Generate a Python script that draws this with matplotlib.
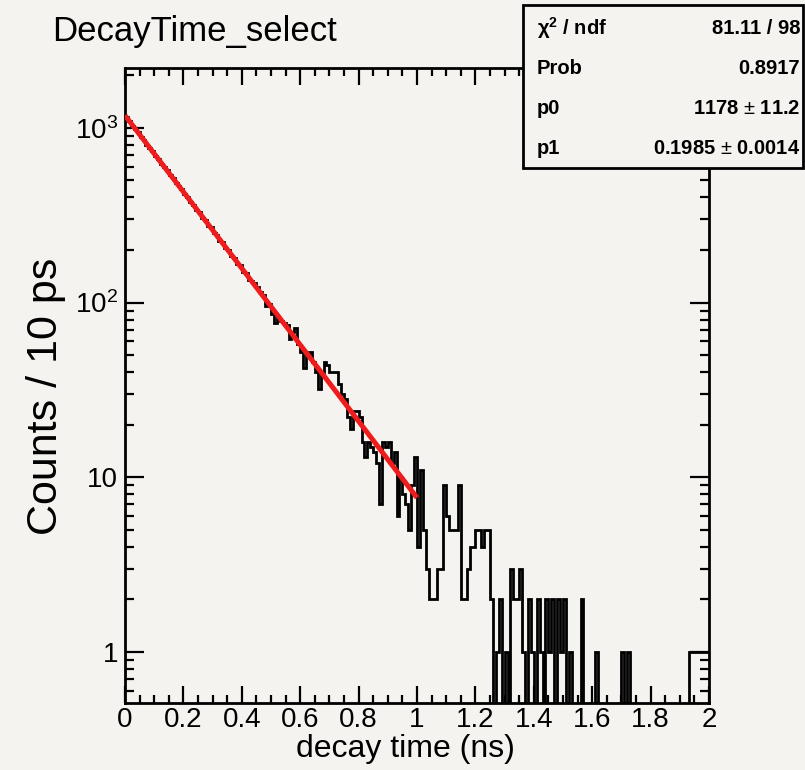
import numpy as np
import matplotlib
matplotlib.use("Agg")
import matplotlib.pyplot as plt
from matplotlib.patches import Rectangle
from matplotlib.ticker import FixedLocator, FixedFormatter, MultipleLocator, LogLocator, NullFormatter

# ---------------- data ----------------
bin_width = 0.01  # ns (10 ps)
x_min, x_max = 0.0, 2.0
counts = [
    1150, 1090, 1030, 990, 945, 885, 855, 800, 770, 735,
    690, 665, 620, 600, 572, 535, 518, 485, 462, 445,
    418, 402, 376, 364, 340, 330, 306, 298, 276, 270,
    250, 244, 226, 221, 204, 200, 184, 181, 166, 163,
    150, 148, 134, 133, 130, 122, 115, 110, 96, 98,
    86, 76, 82, 78, 76, 74, 62, 68, 72, 58,
    52, 42, 50, 52, 46, 40, 32, 40, 46, 44,
    40, 40, 40, 34, 30, 28, 22, 19, 24, 24,
    22, 16, 13, 16, 15, 14, 12, 7, 16, 15,
    16, 12, 14, 6, 10, 8, 7, 5, 9, 13,
    4, 11, 5, 3, 2, 2, 2, 3, 3, 9,
    6, 5, 5, 5, 9, 2, 2, 3, 4, 4,
    5, 5, 4, 5, 5, 2, 0, 1, 2, 0,
    1, 0, 3, 2, 2, 3, 1, 0, 2, 1,
    0, 2, 1, 0, 2, 1, 2, 0, 2, 1,
    2, 0, 1, 0, 0, 0, 2, 0, 0, 0,
    0, 1, 0, 0, 0, 0, 0, 0, 0, 0,
    1, 0, 1, 0, 0, 0, 0, 0, 0, 0,
    0, 0, 0, 0, 0, 0, 0, 0, 0, 0,
    0, 0, 0, 1, 1, 1, 1, 1, 1, 1,
]
fit_p0 = 1178.0
fit_p1 = 0.1985
fit_range = (0.0, 1.0)

title = "DecayTime_select"
xlabel = "decay time (ns)"
ylabel = "Counts / 10 ps"
stats_rows = [("χ$^{\\mathbf{2}}$ / ndf", "81.11 / 98"),
              ("Prob", "0.8917"),
              ("p0", "1178 $\\pm$ 11.2"),
              ("p1", "0.1985 $\\pm$ 0.0014")]
xticks = [0, 0.2, 0.4, 0.6, 0.8, 1.0, 1.2, 1.4, 1.6, 1.8, 2.0]
xtick_labels = ["0", "0.2", "0.4", "0.6", "0.8", "1", "1.2", "1.4", "1.6", "1.8", "2"]
yticks = [1, 10, 100, 1000]
ytick_labels = ["1", "10", "$10^2$", "$10^3$"]

# ---------------- style ----------------
BG = "#f5f3ef"
FONT = "Liberation Sans"
plt.rcParams["font.family"] = [FONT, "DejaVu Sans"]
plt.rcParams["mathtext.fontset"] = "custom"
plt.rcParams["mathtext.rm"] = FONT
plt.rcParams["mathtext.it"] = FONT + ":italic"
plt.rcParams["mathtext.bf"] = FONT + ":bold"

W, H = 805, 770
fig = plt.figure(figsize=(W / 100, H / 100), dpi=100, facecolor=BG)
L, R, T, B = 125, 709, 68, 703
ax = fig.add_axes([L / W, 1 - B / H, (R - L) / W, (B - T) / H], facecolor=BG)

edges = np.linspace(x_min, x_max, len(counts) + 1)
vals = np.array(counts, dtype=float)
plot_vals = np.where(vals > 0, vals, 1e-3)  # empty bins drawn at the bottom (ROOT style)
ax.stairs(plot_vals, edges, baseline=None, color="black", linewidth=2.0, zorder=2)

xf = np.linspace(fit_range[0], fit_range[1], 50)
ax.plot(xf, fit_p0 * np.exp(-xf / fit_p1), color="#ee1c1c", linewidth=3.6,
        solid_capstyle="butt", zorder=3)

ax.set_yscale("log")
ax.set_xlim(x_min, x_max)
ax.set_ylim(0.511, 2200)

ax.xaxis.set_major_locator(FixedLocator(xticks))
ax.xaxis.set_major_formatter(FixedFormatter(xtick_labels))
ax.xaxis.set_minor_locator(MultipleLocator(0.05))
ax.yaxis.set_major_locator(FixedLocator(yticks))
ax.yaxis.set_major_formatter(FixedFormatter(ytick_labels))
ax.yaxis.set_minor_locator(LogLocator(base=10, subs=np.arange(2, 10), numticks=20))
ax.yaxis.set_minor_formatter(NullFormatter())

ax.tick_params(axis="both", which="both", direction="in", top=True, right=True,
               colors="black", width=1.6)
ax.tick_params(axis="x", which="major", length=12, labelsize=20, pad=3)
ax.tick_params(axis="x", which="minor", length=5.5)
ax.tick_params(axis="y", which="major", length=13.5, labelsize=20, pad=5)
ax.tick_params(axis="y", which="minor", length=6.5)
for s in ax.spines.values():
    s.set_linewidth(2.0)

ax.set_xlabel(xlabel, fontsize=23, va="top")
ax.xaxis.set_label_coords((405 - L) / (R - L), -(734 - B) / (B - T))
ax.set_ylabel(ylabel, fontsize=31, va="center")
ax.yaxis.set_label_coords(-(L - 46) / (R - L), (B - 396) / (B - T))

fig.text(52 / W, 1 - 31 / H, title, fontsize=25, ha="left", va="center")

# stats box
bx0, bx1, by0, by1 = 523, 803, 5, 168
fig.add_artist(Rectangle((bx0 / W, 1 - by1 / H), (bx1 - bx0) / W, (by1 - by0) / H,
                         transform=fig.transFigure, facecolor=BG, edgecolor="black",
                         linewidth=2.0, zorder=10))
row_y = [28, 68, 108, 148]
for (lab, val), yy in zip(stats_rows, row_y):
    fig.text(537 / W, 1 - yy / H, lab, fontsize=14.5, fontweight="bold",
             ha="left", va="center", zorder=11)
    fig.text(800 / W, 1 - yy / H, val, fontsize=14.5, fontweight="bold",
             ha="right", va="center", zorder=11)

fig.savefig("out.png", dpi=100, facecolor=BG)
